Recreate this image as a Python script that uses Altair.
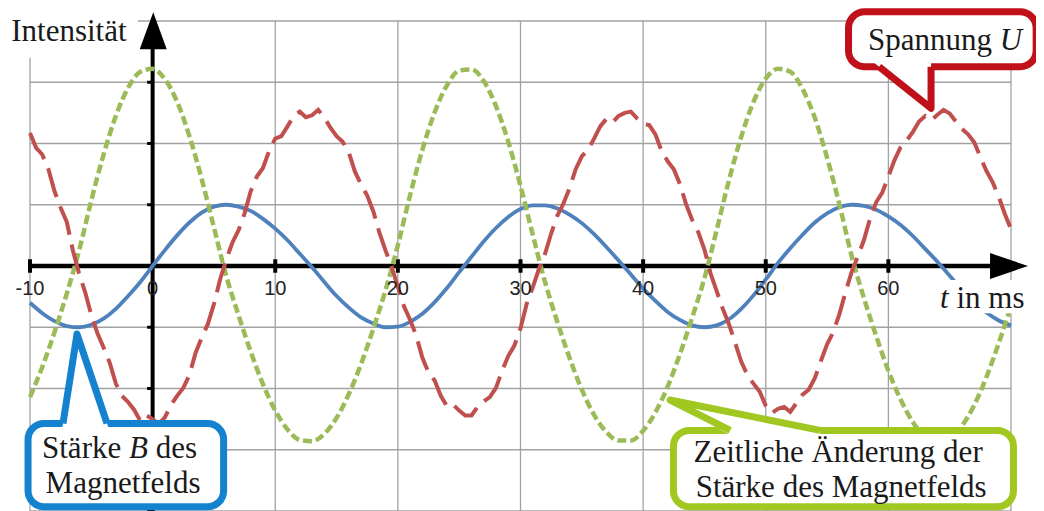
import altair as alt
import pandas as pd

# ---- data (t in ms, intensities in grid units) ----
t_ms = list(range(-10, 71))
t_half = [i / 2 for i in range(-20, 141)]

b_field = [-0.60, -0.77, -0.90, -0.98, -1.00, -0.96, -0.86, -0.70, -0.49, -0.26,
           0.00, 0.26, 0.50, 0.71, 0.87, 0.97, 1.00, 0.97, 0.90, 0.77,
           0.61, 0.42, 0.20, -0.02, -0.26, -0.49, -0.68, -0.84, -0.94, -1.00,
           -0.99, -0.91, -0.78, -0.59, -0.36, -0.10, 0.15, 0.40, 0.62, 0.80,
           0.93, 0.99, 0.99, 0.94, 0.84, 0.70, 0.52, 0.31, 0.09, -0.14,
           -0.37, -0.57, -0.75, -0.88, -0.97, -1.00, -0.97, -0.87, -0.70, -0.48,
           -0.22, 0.05, 0.29, 0.51, 0.71, 0.86, 0.96, 1.00, 0.98, 0.92,
           0.81, 0.67, 0.49, 0.28, 0.07, -0.16, -0.39, -0.59, -0.76, -0.89,
           -0.97]

db_dt = [-2.14, -1.65, -1.08, -0.45, 0.25, 1.07, 1.82, 2.45, 2.91, 3.17,
         3.22, 3.05, 2.68, 2.12, 1.42, 0.63, -0.16, -0.80, -1.40, -1.93,
         -2.36, -2.67, -2.84, -2.86, -2.74, -2.48, -2.09, -1.60, -1.02, -0.39,
         0.34, 1.16, 1.90, 2.51, 2.95, 3.19, 3.21, 3.02, 2.61, 2.03,
         1.31, 0.51, -0.26, -0.91, -1.50, -2.02, -2.43, -2.71, -2.85, -2.85,
         -2.69, -2.39, -1.97, -1.44, -0.84, -0.20, 0.59, 1.40, 2.11, 2.68,
         3.06, 3.22, 3.17, 2.89, 2.42, 1.77, 1.01, 0.17, -0.52, -1.14,
         -1.71, -2.18, -2.55, -2.78, -2.87, -2.81, -2.61, -2.27, -1.81, -1.26,
         -0.65]

# voltage, read every 0.5 ms (noisy measurement)
voltage = [2.17, 1.93, 1.82, 1.58, 1.22, 0.95, 0.72, 0.25, -0.12, -0.43,
           -0.80, -1.10, -1.33, -1.58, -1.92, -2.12, -2.22, -2.35, -2.53, -2.44,
           -2.50, -2.58, -2.47, -2.27, -2.12, -1.99, -1.78, -1.42, -1.17, -0.95,
           -0.62, -0.22, 0.10, 0.38, 0.58, 0.86, 1.22, 1.46, 1.60, 1.88,
           2.08, 2.12, 2.28, 2.45, 2.52, 2.43, 2.46, 2.55, 2.42, 2.26,
           2.12, 2.03, 1.85, 1.54, 1.33, 1.15, 0.89, 0.54, 0.25, -0.02,
           -0.34, -0.66, -0.88, -1.14, -1.50, -1.74, -1.87, -2.12, -2.29, -2.26,
           -2.36, -2.44, -2.44, -2.30, -2.21, -2.14, -1.99, -1.71, -1.47, -1.30,
           -1.02, -0.62, -0.35, -0.05, 0.20, 0.53, 0.82, 1.02, 1.27, 1.58,
           1.79, 1.90, 2.08, 2.28, 2.40, 2.34, 2.45, 2.50, 2.52, 2.41,
           2.32, 2.30, 2.15, 1.88, 1.71, 1.58, 1.34, 1.01, 0.75, 0.55,
           0.27, -0.12, -0.41, -0.70, -0.95, -1.25, -1.56, -1.78, -1.92, -2.05,
           -2.28, -2.40, -2.33, -2.30, -2.38, -2.24, -2.10, -2.02, -1.83, -1.55,
           -1.28, -1.08, -0.79, -0.43, -0.10, 0.15, 0.42, 0.77, 1.04, 1.20,
           1.46, 1.73, 1.94, 2.05, 2.19, 2.36, 2.45, 2.38, 2.47, 2.55,
           2.49, 2.36, 2.24, 2.15, 2.02, 1.78, 1.55, 1.37, 1.13, 0.85,
           0.60]

x_grid = [-10, 0, 10, 20, 30, 40, 50, 60, 70]
y_grid = [-4, -3, -2, -1, 0, 1, 2, 3, 4]
x_tick_vals = [-10, 10, 20, 30, 40, 50, 60]
x_label_vals = [-10, 0, 10, 20, 30, 40, 50, 60]
x_labels = ["-10", "0", "10", "20", "30", "40", "50", "60"]
y_tick_vals = [-4, -3, -2, -1, 1, 2, 3]

# ---- styling ----
GRID = "#A2A2A2"
BLUE = "#4F81BD"
GREEN = "#9BBB59"
RED = "#C0504D"
C_RED = "#C0101A"
C_BLUE = "#1482CE"
C_GREEN = "#A0C820"
TXT = "#1a1a1a"
SERIF = "Liberation Serif"
FS = 31
CW = 7

xs = alt.Scale(domain=[-10, 70], nice=False, zero=False)
ys = alt.Scale(domain=[-4, 4], nice=False, zero=False)
one = pd.DataFrame({"k": [0]})


def X(v):
    return alt.XDatum(v, type="quantitative", scale=xs, axis=None)


def Y(v):
    return alt.YDatum(v, type="quantitative", scale=ys, axis=None)


def X2(v):
    return alt.X2Datum(v)


def Y2(v):
    return alt.Y2Datum(v)


df_b = pd.DataFrame({"t": t_ms, "v": b_field})
df_g = pd.DataFrame({"t": t_ms, "v": db_dt})
df_u = pd.DataFrame({"t": t_half, "v": voltage})

layers = []

# grid
layers.append(alt.Chart(pd.DataFrame({"t": x_grid})).mark_rule(
    color=GRID, strokeWidth=1.3).encode(
    x=alt.X("t:Q", scale=xs, axis=None), y=Y(-4), y2=Y2(4)))
layers.append(alt.Chart(pd.DataFrame({"v": y_grid})).mark_rule(
    color=GRID, strokeWidth=1.3).encode(
    y=alt.Y("v:Q", scale=ys, axis=None), x=X(-10), x2=X2(70)))

# axes lines, ticks and arrows
layers.append(alt.Chart(one).mark_rule(color="black", strokeWidth=4.5).encode(
    x=X(-10), x2=X2(68.4), y=Y(0)))
layers.append(alt.Chart(one).mark_rule(color="black", strokeWidth=4).encode(
    x=X(0), x2=X2(0), y=Y(-4.2), y2=Y2(3.56)))
layers.append(alt.Chart(pd.DataFrame({"t": x_tick_vals})).mark_rule(
    color="black", strokeWidth=4).encode(
    x=alt.X("t:Q", scale=xs, axis=None), y=Y(-0.11), y2=Y2(0.11)))
layers.append(alt.Chart(pd.DataFrame({"v": y_tick_vals})).mark_rule(
    color="black", strokeWidth=3).encode(
    y=alt.Y("v:Q", scale=ys, axis=None), x=X(-0.45), x2=X2(0)))
layers.append(alt.Chart(one).mark_point(
    shape="M1,0L-1,-0.68L-1,0.68Z", size=1444, filled=True, color="black",
    opacity=1, strokeWidth=0).encode(x=X(69.84), y=Y(0)))
layers.append(alt.Chart(one).mark_point(
    shape="M0,-1L-0.73,1L0.73,1Z", size=1369, filled=True, color="black",
    opacity=1, strokeWidth=0).encode(x=X(0.05), y=Y(3.84)))

# curves
layers.append(alt.Chart(df_b).mark_line(color=BLUE, strokeWidth=3.8,
                                        interpolate="monotone").encode(
    x=alt.X("t:Q", scale=xs, axis=None), y=alt.Y("v:Q", scale=ys, axis=None)))
layers.append(alt.Chart(df_g).mark_line(color=GREEN, strokeWidth=4.5,
                                        strokeDash=[9, 4],
                                        interpolate="monotone").encode(
    x=alt.X("t:Q", scale=xs, axis=None), y=alt.Y("v:Q", scale=ys, axis=None)))
layers.append(alt.Chart(df_u).mark_line(color=RED, strokeWidth=4,
                                        strokeDash=[30, 10]).encode(
    x=alt.X("t:Q", scale=xs, axis=None), y=alt.Y("v:Q", scale=ys, axis=None)))

# white backgrounds of the axis titles
layers.append(alt.Chart(one).mark_rect(fill="white").encode(
    x=X(-12.5), x2=X2(-1.2), y=Y(4.4), y2=Y2(3.4)))
layers.append(alt.Chart(one).mark_rect(fill="white").encode(
    x=X(64.2), x2=X2(71.8), y=Y(-0.23), y2=Y2(-0.77)))


def callout(box, fill_pts, line_pts, color):
    out = [alt.Chart(one).mark_rect(fill="white", stroke=color, strokeWidth=CW,
                                    cornerRadius=16).encode(
        x=X(box[0]), x2=X2(box[1]), y=Y(box[2]), y2=Y2(box[3]))]
    fdf = pd.DataFrame(fill_pts, columns=["fx", "fy", "fy2"])
    out.append(alt.Chart(fdf).mark_area(color="white", opacity=1).encode(
        x=alt.X("fx:Q", scale=xs, axis=None),
        y=alt.Y("fy:Q", scale=ys, axis=None), y2="fy2:Q"))
    ldf = pd.DataFrame(line_pts, columns=["lx", "ly"])
    ldf["o"] = range(len(ldf))
    out.append(alt.Chart(ldf).mark_line(color=color, strokeWidth=CW,
                                        strokeJoin="round").encode(
        x=alt.X("lx:Q", scale=xs, axis=None),
        y=alt.Y("ly:Q", scale=ys, axis=None), order="o:Q"))
    return out


# Spannung U (red)
layers += callout((56.75, 72.05, 4.15, 3.253),
                  [(58.76, 3.33, 3.33), (63.48, 3.33, 2.576)],
                  [(59.24, 3.253), (63.48, 2.576), (63.48, 3.253)], C_RED)
# Stärke B (blue)
layers += callout((-10.16, 5.79, -2.571, -3.93),
                  [(-7.38, -2.66, -2.66), (-6.165, -1.111, -2.66), (-3.57, -2.66, -2.66)],
                  [(-7.31, -2.571), (-6.165, -1.111), (-3.72, -2.571)], C_BLUE)
# Zeitliche Änderung (green)
layers += callout((42.47, 70.2, -2.684, -3.93),
                  [(42.20, -2.188, -2.188), (47.10, -2.40, -2.76), (54.43, -2.684, -2.76)],
                  [(47.10, -2.684), (42.20, -2.188), (54.43, -2.684)], C_GREEN)


def txt(s, x, y, align="left", style="normal", font=SERIF, size=FS, color=TXT):
    return alt.Chart(one).mark_text(text=s, align=align, baseline="alphabetic",
                                    font=font, fontSize=size, fontStyle=style,
                                    color=color).encode(x=X(x), y=Y(y))


# axis tick labels
layers.append(alt.Chart(pd.DataFrame({"t": x_label_vals, "lab": x_labels})).mark_text(
    font="Liberation Sans", fontSize=20, color="#222222", baseline="middle",
    align="center", dy=23).encode(
    x=alt.X("t:Q", scale=xs, axis=None), y=Y(0), text="lab:N"))

layers.append(txt("Intensität", -11.53, 3.669))
layers.append(txt("t", 64.21, -0.692, style="italic"))
layers.append(txt("in ms", 65.55, -0.692))
layers.append(txt("Spannung", 58.34, 3.522))
layers.append(txt("U", 69.09, 3.522, style="italic"))
layers.append(txt("Stärke", -9.02, -3.139))
layers.append(txt("B", -1.93, -3.139, style="italic"))
layers.append(txt("des", 0.25, -3.139))
layers.append(txt("Magnetfelds", -2.41, -3.71, align="center"))
layers.append(txt("Zeitliche Änderung der", 55.9, -3.194, align="center"))
layers.append(txt("Stärke des Magnetfelds", 56.15, -3.765, align="center"))

chart = alt.layer(*layers).properties(
    width=981, height=490,
    autosize=alt.AutoSizeParams(type="none"),
    padding={"left": 22, "top": 13, "right": 25, "bottom": 0},
    background="white",
).configure_view(stroke=None)

chart.save("out.html", embed_options={"renderer": "svg", "actions": False})
